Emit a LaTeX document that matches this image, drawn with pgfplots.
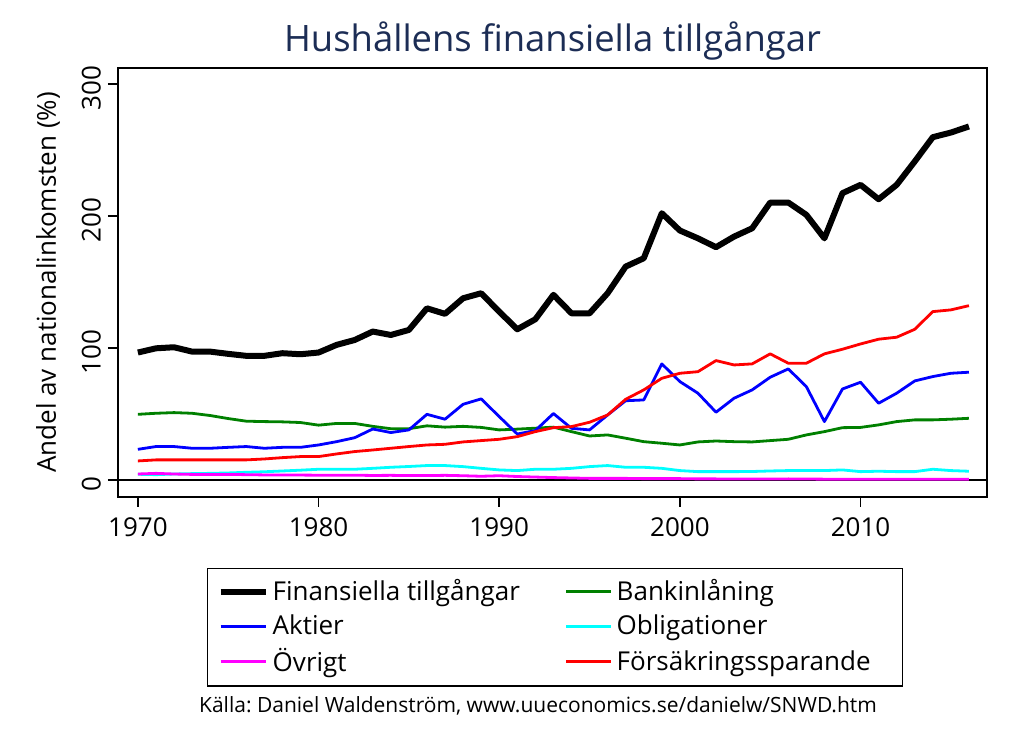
\documentclass[border=0pt]{standalone}
\usepackage{pgfplots}
\pgfplotsset{compat=1.18}
\usepackage{fontspec}
\setmainfont{Open Sans}
\definecolor{titlenavy}{RGB}{28,45,85}
\definecolor{sgreen}{RGB}{0,128,0}
\definecolor{scyan}{RGB}{0,255,255}
\definecolor{smagenta}{RGB}{255,0,255}
\definecolor{sblue}{RGB}{0,0,255}
\definecolor{sred}{RGB}{255,0,0}
\newcommand{\ticksize}{\fontsize{13pt}{15pt}\selectfont}
\newcommand{\legsize}{\fontsize{13pt}{15pt}\selectfont}

\begin{document}
\frenchspacing
\begin{tikzpicture}
\path[use as bounding box] (0,0) rectangle (512pt,365.5pt);
\begin{axis}[
  at={(59pt,117pt)}, anchor=south west,
  scale only axis, width=434.5pt, height=214.5pt,
  xmin=1968.9, xmax=2017, ymin=-12.9, ymax=312,
  xtick={1970,1980,1990,2000,2010}, ytick={0,100,200,300},
  xtick pos=bottom, ytick pos=left,
  tick align=outside, major tick length=5pt,
  axis line style={line width=0.75pt},
  tick style={black, line width=0.75pt},
  /pgf/number format/assume math mode=true,
  /pgf/number format/1000 sep={},
  xticklabel style={font=\ticksize, yshift=-2pt},
  yticklabel style={font=\ticksize, rotate=90, anchor=south, xshift=-2pt},
  ylabel={Andel av nationalinkomsten (\%)},
  every axis y label/.style={at={(rel axis cs:0,0.5)}, xshift=-35pt, rotate=90, anchor=center, font=\fontsize{13pt}{15pt}\selectfont},
  title={Hushållens finansiella tillgångar},
  every axis title/.style={at={(0.5,1)}, anchor=base, yshift=8pt, font=\fontsize{18.2pt}{22pt}\selectfont, text=titlenavy},
  legend columns=2,
  legend cell align=left,
  legend style={at={(0.1024,-0.1655)}, anchor=north west, draw=black, line width=0.75pt,
    font=\legsize, inner xsep=5pt, inner ysep=3.5pt, row sep=1.5pt,
    /tikz/every even column/.append style={column sep=20.5pt}},
  legend image code/.code={\draw[#1] (0pt,0pt) -- (22.5pt,0pt);},
]
\draw[black, line width=1pt] (axis cs:1968.9,0) -- (axis cs:2017,0);

\addplot[black, line width=3pt, line join=round] coordinates {
(1970,96.5) (1971,99.7) (1972,100.5) (1973,97.2) (1974,97.2) (1975,95.5) (1976,94) (1977,94)
(1978,96) (1979,95.2) (1980,96.5) (1981,102.3) (1982,106) (1983,112.4) (1984,109.8) (1985,113.6)
(1986,130) (1987,125.8) (1988,137.6) (1989,141.4) (1990,127.5) (1991,114.1) (1992,121.7) (1993,140.2)
(1994,126.2) (1995,126.2) (1996,141.4) (1997,161.6) (1998,167.9) (1999,202) (2000,188.9) (2001,183)
(2002,176.3) (2003,184.3) (2004,190.6) (2005,210.1) (2006,210.1) (2007,200.8) (2008,183) (2009,217.2)
(2010,223.5) (2011,212.6) (2012,223.5) (2013,241.2) (2014,259.6) (2015,263.1) (2016,267.7)};
\addlegendentry{Finansiella tillgångar}

\addplot[sgreen, line width=1.4pt, line join=round] coordinates {
(1970,49.7) (1971,50.5) (1972,51) (1973,50.5) (1974,48.8) (1975,46.5) (1976,44.5) (1977,44.2)
(1978,44) (1979,43.5) (1980,41.5) (1981,42.8) (1982,42.8) (1983,40.6) (1984,38.8) (1985,38.8)
(1986,41) (1987,40) (1988,40.6) (1989,39.8) (1990,37.9) (1991,38.5) (1992,39.2) (1993,40)
(1994,36.6) (1995,33.3) (1996,34.1) (1997,31.6) (1998,29) (1999,27.8) (2000,26.5) (2001,28.8)
(2002,29.5) (2003,29) (2004,28.8) (2005,29.8) (2006,30.8) (2007,34.1) (2008,36.6) (2009,39.6)
(2010,39.8) (2011,41.7) (2012,44.2) (2013,45.5) (2014,45.5) (2015,46) (2016,46.7)};
\addlegendentry{Bankinlåning}

\addplot[sblue, line width=1.4pt, line join=round] coordinates {
(1970,23.2) (1971,25.3) (1972,25.3) (1973,24) (1974,24) (1975,24.7) (1976,25.3) (1977,24)
(1978,24.7) (1979,24.7) (1980,26.5) (1981,29) (1982,32) (1983,38.6) (1984,35.9) (1985,37.9)
(1986,49.7) (1987,46) (1988,57.3) (1989,61.4) (1990,48) (1991,34.8) (1992,37.4) (1993,50.3)
(1994,39.1) (1995,37.9) (1996,49.2) (1997,60) (1998,60.6) (1999,87.9) (2000,74.5) (2001,65.7)
(2002,51.3) (2003,61.9) (2004,68.2) (2005,77.8) (2006,84.1) (2007,70.7) (2008,44.2) (2009,68.9)
(2010,74) (2011,58.1) (2012,65.7) (2013,75) (2014,78.3) (2015,80.8) (2016,81.6)};
\addlegendentry{Aktier}

\addplot[scyan, line width=1.4pt, line join=round] coordinates {
(1970,4.3) (1971,4.0) (1972,4.5) (1973,4.8) (1974,5.0) (1975,5.3) (1976,5.8) (1977,6.2)
(1978,6.8) (1979,7.4) (1980,8.1) (1981,8.1) (1982,8.1) (1983,8.8) (1984,9.6) (1985,10.2)
(1986,10.9) (1987,10.9) (1988,10.1) (1989,8.8) (1990,7.6) (1991,7.1) (1992,8.1) (1993,8.1)
(1994,8.8) (1995,10.1) (1996,10.9) (1997,9.6) (1998,9.6) (1999,8.8) (2000,7.1) (2001,6.3)
(2002,6.3) (2003,6.3) (2004,6.4) (2005,6.8) (2006,7.1) (2007,7.1) (2008,7.1) (2009,7.6)
(2010,6.3) (2011,6.6) (2012,6.3) (2013,6.3) (2014,8.1) (2015,7.1) (2016,6.6)};
\addlegendentry{Obligationer}

\addplot[smagenta, line width=1.4pt, line join=round] coordinates {
(1970,4.5) (1971,5) (1972,4.5) (1973,4.2) (1974,4.2) (1975,4.2) (1976,4) (1977,3.8)
(1978,3.8) (1979,3.7) (1980,3.6) (1981,3.6) (1982,3.6) (1983,3.4) (1984,3.5) (1985,3.3)
(1986,3.3) (1987,3.5) (1988,3.2) (1989,2.8) (1990,3.2) (1991,2.6) (1992,2.2) (1993,1.8)
(1994,1.5) (1995,1.2) (1996,1.2) (1997,1.2) (1998,1.0) (1999,1.0) (2000,1.0) (2001,0.8)
(2002,0.8) (2003,0.7) (2004,0.7) (2005,0.7) (2006,0.8) (2007,0.7) (2008,0.6) (2009,0.6)
(2010,0.6) (2011,0.6) (2012,0.6) (2013,0.6) (2014,0.6) (2015,0.6) (2016,0.6)};
\addlegendentry{Övrigt}

\addplot[sred, line width=1.4pt, line join=round] coordinates {
(1970,14.4) (1971,15.2) (1972,15.2) (1973,15.2) (1974,15.2) (1975,15.2) (1976,15.2) (1977,15.9)
(1978,16.9) (1979,17.7) (1980,17.7) (1981,19.7) (1982,21.5) (1983,22.7) (1984,24) (1985,25.3)
(1986,26.5) (1987,27) (1988,28.8) (1989,29.8) (1990,30.8) (1991,32.8) (1992,36.6) (1993,39.6)
(1994,40.4) (1995,43.7) (1996,49.2) (1997,61.1) (1998,68.2) (1999,77) (2000,80.8) (2001,82)
(2002,90.4) (2003,87.1) (2004,87.9) (2005,95.5) (2006,88.4) (2007,88.4) (2008,95.5) (2009,99)
(2010,103) (2011,106.6) (2012,108.1) (2013,114.1) (2014,127.5) (2015,128.8) (2016,132)};
\addlegendentry{Försäkringssparande\kern 9pt}
\end{axis}
\node[font=\fontsize{10.5pt}{12pt}\selectfont, anchor=center] at (269pt,12.5pt)
  {Källa: Daniel Waldenström, www.uueconomics.se/danielw/SNWD.htm};
\end{tikzpicture}
\end{document}
